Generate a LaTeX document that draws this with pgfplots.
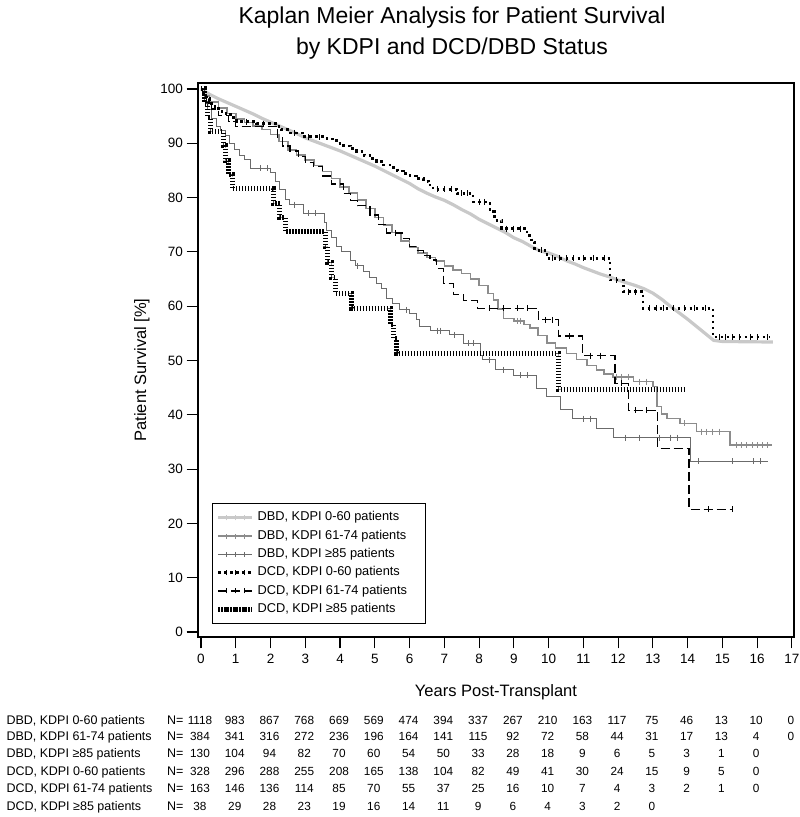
\documentclass[border=0pt]{standalone}
\usepackage{fontspec}
\setmainfont{Liberation Sans}
\usepackage{pgfplots}
\pgfplotsset{compat=1.18}
\definecolor{gA}{gray}{0.79}
\definecolor{gB}{gray}{0.55}
\definecolor{gC}{gray}{0.42}
\newcommand{\rf}{\fontsize{12.5}{14}\selectfont}
\newcommand{\nf}{\fontsize{11.8}{14}\selectfont}
\pgfplotsset{
  kmleg/.style={legend image code/.code={%
      \draw[##1] (0pt,0pt) -- (34pt,0pt);
      \draw[#1,line width=0.7pt,solid] (8pt,-2.5pt)--(8pt,2.5pt) (17pt,-2.5pt)--(17pt,2.5pt) (26pt,-2.5pt)--(26pt,2.5pt);}},
  cens/.style={only marks, mark=|, mark size=3pt, color=#1, mark options={line width=0.8pt, solid}, forget plot}
}
\newcommand{\riskrow}[3]{%
  \node[anchor=base west, font=\rf] at (3,#1) {#2};
  \node[anchor=base west, font=\rf, inner sep=0pt] at (167,#1) {N=};
  \foreach \v [count=\i from 0] in {#3} {\node[anchor=base, font=\nf] at ({200+34.76*\i},#1) {\v};}
}
\begin{document}
\begin{tikzpicture}[x=1pt,y=1pt]
\useasboundingbox (0,0) rectangle (800,817);
\node[anchor=base, font=\fontsize{23}{27}\selectfont] at (452,793.5) {Kaplan Meier Analysis for Patient Survival};
\node[anchor=base, font=\fontsize{23}{27}\selectfont] at (452,762.5) {by KDPI and DCD/DBD Status};
\begin{axis}[
  at={(198pt,180pt)}, anchor=south west,
  scale only axis, width=596pt, height=554pt,
  xmin=-0.086, xmax=17.06, ymin=-0.92, ymax=101.1,
  xtick={0,1,...,17}, ytick={0,10,...,100},
  xtick pos=bottom, ytick pos=left,
  tick align=outside, major tick length=11.5pt,
  axis line style={line width=1.8pt},
  every tick/.style={black, line width=1.1pt},
  tick label style={font=\fontsize{13.5}{15}\selectfont},
  /pgf/number format/assume math mode=true,
  xticklabel style={yshift=-2.5pt},
  xlabel={Years Post-Transplant}, ylabel={Patient Survival [\%]},
  label style={font=\fontsize{16.5}{19}\selectfont},
  xlabel style={at={(axis description cs:0.5,-0.099)}, anchor=center},
  ylabel style={at={(axis description cs:-0.094,0.482)}, anchor=center},
  legend style={at={(axis cs:0.316,23.76)}, anchor=north west, draw=black, line width=1.3pt, fill=white,
    font=\fontsize{12.8}{14}\selectfont, inner xsep=3pt, inner ysep=5pt, row sep=0pt,
    nodes={inner xsep=3pt, inner ysep=3pt, text height=9.3pt, text depth=3pt}},
  legend cell align=left,
]
% DBD KDPI 0-60
\addplot[gA, line width=3.2pt, kmleg=gA] coordinates {(0,100)(0.1,99.6)(0.25,99.0)(0.5,98.2)(0.75,97.5)(1.0,96.8)(1.25,96.1)(1.5,95.4)(1.75,94.6)(2.0,93.9)(2.25,93.2)(2.5,92.5)(2.75,91.8)(3.0,91.0)(3.25,90.4)(3.5,89.8)(3.75,89.2)(4.0,88.6)(4.25,87.9)(4.5,87.2)(4.75,86.5)(5.0,85.8)(5.25,85.0)(5.5,84.2)(5.75,83.4)(6.0,82.6)(6.25,81.6)(6.5,80.8)(6.75,80.1)(7.0,79.5)(7.25,78.7)(7.5,77.8)(7.75,77.0)(8.0,76.0)(8.25,75.2)(8.5,74.4)(8.75,73.6)(9.0,72.6)(9.25,71.9)(9.5,71.0)(9.75,70.2)(10.0,69.8)(10.25,69.2)(10.5,68.4)(10.75,67.8)(11.0,67.1)(11.25,66.5)(11.5,65.9)(11.75,65.4)(12.0,64.8)(12.25,64.3)(12.5,63.8)(12.75,63.2)(13.0,62.4)(13.25,61.3)(13.5,60.0)(13.75,58.8)(14.0,57.6)(14.25,56.3)(14.5,55.0)(14.75,53.7)(15.0,53.5)(16.45,53.4)};
\addlegendentry{\makebox[162pt][l]{DBD, KDPI 0-60 patients}}
% DBD KDPI 61-74
\addplot[gB, line width=1.6pt, const plot, kmleg=gB] coordinates {(0,100)(0.1,98.7)(0.25,97.6)(0.5,96.5)(0.75,95.5)(1.0,94.5)(1.25,93.8)(1.5,93.2)(1.75,92.5)(2.0,91.6)(2.25,90.3)(2.5,88.8)(2.75,87.8)(3.0,86.9)(3.25,85.9)(3.5,84.8)(3.75,83.5)(4.0,82.0)(4.25,80.8)(4.5,79.5)(4.75,78.0)(5.0,76.3)(5.25,75.0)(5.5,73.6)(5.75,72.0)(6.0,70.8)(6.25,69.8)(6.5,69.0)(6.75,68.3)(7.0,67.4)(7.25,66.7)(7.5,66.0)(7.75,65.0)(8.0,63.8)(8.25,62.3)(8.41,61.1)(8.55,59.5)(8.7,57.7)(9.0,57.3)(9.3,56.6)(9.47,56.0)(9.7,54.6)(9.95,53.2)(10.2,52.3)(10.52,51.3)(10.8,50.2)(11.1,49.1)(11.38,48.2)(11.6,47.5)(11.86,47.0)(12.44,46.1)(13.01,45.2)(13.11,41.5)(13.25,40.2)(13.4,39.3)(13.78,38.4)(14.26,36.9)(15.22,34.4)(16.42,34.4)};
\addlegendentry{\makebox[162pt][l]{DBD, KDPI 61-74 patients}}
\addplot[cens=gB] coordinates {(9.1,57.3)(9.2,57.3)(11.95,47.0)(12.1,47.0)(12.3,47.0)(12.6,46.1)(12.8,46.1)(13.9,38.4)(14.4,36.9)(14.55,36.9)(14.7,36.9)(14.9,36.9)(15.4,34.4)(15.55,34.4)(15.7,34.4)(15.85,34.4)(16.0,34.4)(16.15,34.4)(16.3,34.4)};
% DBD KDPI >=85
\addplot[gC, line width=1.0pt, const plot, kmleg=gC] coordinates {(0,100)(0.1,97.7)(0.2,96.2)(0.3,94.6)(0.45,93.1)(0.55,92.3)(0.7,91.5)(0.83,90.0)(0.95,88.8)(1.1,87.8)(1.25,87.0)(1.41,85.4)(2.0,84.6)(2.15,83.0)(2.27,81.4)(2.42,79.6)(2.56,78.7)(2.94,77.1)(3.55,75.5)(3.62,73.9)(3.75,72.6)(3.9,71.0)(4.05,70.1)(4.29,68.5)(4.45,67.4)(4.67,66.4)(4.85,65.2)(5.05,64.2)(5.2,63.3)(5.34,61.4)(5.5,60.5)(5.72,59.3)(6.01,58.7)(6.2,57.5)(6.3,56.2)(6.59,55.5)(7.16,54.7)(7.54,53.2)(8.03,51.0)(8.1,50.1)(8.46,48.3)(8.99,47.3)(9.66,44.9)(9.95,43.3)(10.33,40.9)(10.7,39.3)(11.38,37.5)(11.86,35.8)(14.07,31.4)(16.32,31.4)};
\addlegendentry{\makebox[162pt][l]{DBD, KDPI ≥85 patients}}
\addplot[cens=gC] coordinates {(1.7,85.4)(1.9,85.4)(2.7,78.7)(3.1,77.1)(3.3,77.1)(4.5,67.4)(5.9,59.3)(6.8,55.5)(6.9,55.5)(7.3,54.7)(7.7,53.2)(7.85,53.2)(8.3,50.1)(8.7,48.3)(9.2,47.3)(9.4,47.3)(11.0,39.3)(11.2,39.3)(12.2,35.8)(12.6,35.8)(13.2,35.8)(13.5,35.8)(13.7,35.8)(14.3,31.4)(15.3,31.4)(15.9,31.4)(16.1,31.4)};
% DCD KDPI 0-60
\addplot[black, line width=2.6pt, dash pattern=on 2.5pt off 3.5pt, const plot, kmleg=black] coordinates {(0,100)(0.08,99.1)(0.15,98.2)(0.25,97.3)(0.4,96.4)(0.6,95.5)(0.85,94.7)(1.03,94.0)(1.6,93.6)(2.18,93.1)(2.3,92.5)(2.56,91.9)(2.94,91.2)(3.62,90.8)(3.9,90.0)(4.1,89.5)(4.3,89.0)(4.48,88.5)(4.7,87.8)(4.86,87.2)(5.05,86.6)(5.25,86.0)(5.44,85.5)(5.65,84.9)(5.82,84.4)(6.01,84.0)(6.2,83.5)(6.4,83.0)(6.55,82.3)(6.68,81.5)(7.36,80.8)(7.83,79.2)(8.31,77.4)(8.45,75.8)(8.65,74.3)(9.38,73.0)(9.5,71.8)(9.6,70.3)(9.95,68.8)(11.77,64.8)(12.15,62.7)(12.72,59.6)(14.73,54.3)(16.37,54.3)};
\addlegendentry{\makebox[162pt][l]{DCD, KDPI 0-60 patients}}
\addplot[cens=black] coordinates {(1.3,94.0)(1.8,93.6)(2.7,91.9)(3.1,91.2)(3.4,91.2)(6.8,81.5)(7.0,81.5)(7.2,81.5)(7.5,80.8)(7.65,80.8)(8.0,79.2)(8.15,79.2)(8.8,74.3)(9.0,74.3)(9.2,74.3)(9.8,70.3)(10.1,68.8)(10.3,68.8)(10.5,68.8)(10.7,68.8)(11.0,68.8)(11.3,68.8)(11.6,68.8)(11.95,64.8)(12.3,62.7)(12.5,62.7)(12.9,59.6)(13.1,59.6)(13.3,59.6)(13.6,59.6)(13.9,59.6)(14.2,59.6)(14.5,59.6)(14.9,54.3)(15.1,54.3)(15.3,54.3)(15.5,54.3)(15.8,54.3)(16.0,54.3)(16.3,54.3)};
% DCD KDPI 61-74
\addplot[black, line width=1.3pt, dash pattern=on 9pt off 4pt, const plot, kmleg=black] coordinates {(0,100)(0.05,98.8)(0.15,97.5)(0.3,96.3)(0.5,95.1)(0.8,94.0)(1.0,93.1)(2.2,91.0)(2.35,89.5)(2.56,88.6)(2.8,87.5)(3.0,86.5)(3.23,85.7)(3.5,84.0)(3.75,82.5)(4.09,80.8)(4.3,79.5)(4.5,78.5)(4.86,76.8)(5.1,75.0)(5.34,73.5)(5.8,72.5)(6.0,71.0)(6.2,70.3)(6.4,69.3)(6.59,68.5)(6.78,67.0)(6.97,64.2)(7.26,62.1)(7.55,61.1)(7.95,59.6)(9.7,57.5)(10.28,54.5)(10.98,50.9)(11.91,45.8)(12.29,40.8)(13.14,33.8)(14.04,22.6)(15.3,22.6)};
\addlegendentry{\makebox[162pt][l]{DCD, KDPI 61-74 patients}}
\addplot[cens=black] coordinates {(5.6,73.5)(8.3,59.6)(8.7,59.6)(9.1,59.6)(9.4,59.6)(9.9,57.5)(10.1,57.5)(10.6,54.5)(11.2,50.9)(11.5,50.9)(12.1,45.8)(12.5,40.8)(12.8,40.8)(14.6,22.6)(15.3,22.6)};
% DCD KDPI >=85
\addplot[black, line width=5pt, dash pattern=on 1.4pt off 1.6pt, const plot, kmleg=black] coordinates {(0,100)(0.1,97.4)(0.2,94.7)(0.26,92.1)(0.64,89.5)(0.7,86.8)(0.8,84.2)(0.9,81.6)(2.08,78.9)(2.27,76.3)(2.42,73.7)(3.57,70.9)(3.65,68.1)(3.75,65.3)(3.86,62.4)(4.34,59.6)(5.46,56.6)(5.55,54.0)(5.63,51.3)(10.28,44.7)(13.97,44.7)};
\addlegendentry{\makebox[162pt][l]{DCD, KDPI ≥85 patients}}
\end{axis}
\riskrow{92.5}{DBD, KDPI 0-60 patients}{1118,983,867,768,669,569,474,394,337,267,210,163,117,75,46,13,10,0}
\riskrow{76.5}{DBD, KDPI 61-74 patients}{384,341,316,272,236,196,164,141,115,92,72,58,44,31,17,13,4,0}
\riskrow{59.5}{DBD, KDPI ≥85 patients}{130,104,94,82,70,60,54,50,33,28,18,9,6,5,3,1,0}
\riskrow{41.5}{DCD, KDPI 0-60 patients}{328,296,288,255,208,165,138,104,82,49,41,30,24,15,9,5,0}
\riskrow{24.5}{DCD, KDPI 61-74 patients}{163,146,136,114,85,70,55,37,25,16,10,7,4,3,2,1,0}
\riskrow{6.5}{DCD, KDPI ≥85 patients}{38,29,28,23,19,16,14,11,9,6,4,3,2,0}
\end{tikzpicture}
\end{document}
